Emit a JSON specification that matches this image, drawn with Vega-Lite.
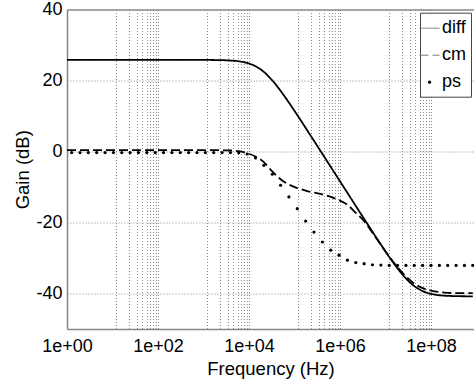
{
  "$schema": "https://vega.github.io/schema/vega-lite/v6.json",
  "width": 407,
  "height": 319.5,
  "autosize": {"type": "none"},
  "padding": {"left": 67, "top": 9.5, "right": 0, "bottom": 56},
  "config": {"view": {"stroke": null}, "font": "Liberation Sans"},
  "data": {"values": [
    {"f": 1, "diff": 25.8, "cm": 0.4, "ps": null},
    {"f": 1.265, "diff": 25.8, "cm": 0.4, "ps": -0.3},
    {"f": 1.932, "diff": 25.8, "cm": 0.4, "ps": -0.3},
    {"f": 2.944, "diff": 25.8, "cm": 0.4, "ps": -0.3},
    {"f": 4.498, "diff": 25.8, "cm": 0.4, "ps": -0.3},
    {"f": 6.871, "diff": 25.8, "cm": 0.4, "ps": -0.3},
    {"f": 10.47, "diff": 25.8, "cm": 0.4, "ps": -0.3},
    {"f": 16.0, "diff": 25.8, "cm": 0.4, "ps": -0.3},
    {"f": 24.43, "diff": 25.8, "cm": 0.4, "ps": -0.3},
    {"f": 37.24, "diff": 25.8, "cm": 0.4, "ps": -0.3},
    {"f": 56.89, "diff": 25.8, "cm": 0.4, "ps": -0.3},
    {"f": 86.9, "diff": 25.8, "cm": 0.4, "ps": -0.3},
    {"f": 132.4, "diff": 25.8, "cm": 0.4, "ps": -0.3},
    {"f": 202.3, "diff": 25.8, "cm": 0.4, "ps": -0.3},
    {"f": 309, "diff": 25.8, "cm": 0.4, "ps": -0.3},
    {"f": 471, "diff": 25.8, "cm": 0.4, "ps": -0.3},
    {"f": 719.4, "diff": 25.8, "cm": 0.4, "ps": -0.3},
    {"f": 1099, "diff": 25.8, "cm": 0.4, "ps": -0.3},
    {"f": 1675, "diff": 25.77, "cm": 0.4, "ps": -0.3},
    {"f": 2559, "diff": 25.73, "cm": 0.35, "ps": -0.3},
    {"f": 3908, "diff": 25.63, "cm": 0.3, "ps": -0.3},
    {"f": 5957, "diff": 25.41, "cm": 0.1, "ps": -0.35},
    {"f": 9099, "diff": 24.94, "cm": -0.5, "ps": -0.7},
    {"f": 13900, "diff": 24.02, "cm": -1.4, "ps": -1.8},
    {"f": 21180, "diff": 22.42, "cm": -3.0, "ps": -3.9},
    {"f": 32360, "diff": 20.06, "cm": -5.6, "ps": -6.4},
    {"f": 49430, "diff": 17.09, "cm": -7.8, "ps": -9.5},
    {"f": 75340, "diff": 13.78, "cm": -9.3, "ps": -12.8},
    {"f": 115100, "diff": 10.26, "cm": -10.3, "ps": -16.1},
    {"f": 175800, "diff": 6.65, "cm": -11.0, "ps": -19.6},
    {"f": 267900, "diff": 3.02, "cm": -11.6, "ps": -22.7},
    {"f": 409300, "diff": -0.65, "cm": -12.1, "ps": -25.5},
    {"f": 625200, "diff": -4.32, "cm": -12.8, "ps": -27.8},
    {"f": 952800, "diff": -7.98, "cm": -13.7, "ps": -29.2},
    {"f": 1455000, "diff": -11.65, "cm": -15.0, "ps": -30.6},
    {"f": 2223000, "diff": -15.33, "cm": -17.3, "ps": -31.3},
    {"f": 3388000, "diff": -18.97, "cm": -19.6, "ps": -31.6},
    {"f": 5176000, "diff": -22.61, "cm": -22.9, "ps": -31.9},
    {"f": 7907000, "diff": -26.21, "cm": -26.3, "ps": -32.0},
    {"f": 12050000, "diff": -29.67, "cm": -29.6, "ps": -32.1},
    {"f": 18410000, "diff": -32.93, "cm": -32.6, "ps": -32.1},
    {"f": 28120000, "diff": -35.75, "cm": -35.2, "ps": -32.1},
    {"f": 42850000, "diff": -37.91, "cm": -37.2, "ps": -32.1},
    {"f": 65460000, "diff": -39.32, "cm": -38.5, "ps": -32.1},
    {"f": 100000000, "diff": -40.1, "cm": -39.2, "ps": -32.1},
    {"f": 152800000, "diff": -40.49, "cm": -39.6, "ps": -32.1},
    {"f": 232800000, "diff": -40.66, "cm": -39.8, "ps": -32.1},
    {"f": 355600000, "diff": -40.74, "cm": -39.9, "ps": -32.1},
    {"f": 543300000, "diff": -40.78, "cm": -39.9, "ps": -32.1},
    {"f": 827900000, "diff": -40.8, "cm": -39.9, "ps": -32.1}
  ]},
  "transform": [{"fold": ["diff", "cm", "ps"], "as": ["series", "gain"]}],
  "encoding": {
    "x": {
      "field": "f", "type": "quantitative",
      "scale": {"type": "log", "domain": [1, 881000000], "nice": false},
      "axis": {
        "title": "Frequency (Hz)",
        "values": [1, 12, 23, 34, 45, 56, 67, 78, 89, 100, 1200, 2300, 3400, 4500, 5600, 6700, 7800, 8900, 10000, 120000, 230000, 340000, 450000, 560000, 670000, 780000, 890000, 1000000, 12000000, 23000000, 34000000, 45000000, 56000000, 67000000, 78000000, 89000000, 100000000],
        "labelExpr": "datum.value === 1 ? '1e+00' : datum.value === 100 ? '1e+02' : datum.value === 10000 ? '1e+04' : datum.value === 1000000 ? '1e+06' : datum.value === 100000000 ? '1e+08' : ''",
        "labelOverlap": false, "labelFlush": false,
        "grid": true, "gridDash": [1, 2], "gridColor": "#8c8c8c", "gridWidth": 1,
        "ticks": false, "domainColor": "#888", "domainWidth": 1.5,
        "labelPadding": 8, "labelFontSize": 18, "labelColor": "black", "labelFont": "Liberation Sans",
        "titleFontSize": 18.5, "titleFontWeight": "normal", "titleColor": "black", "titleFont": "Liberation Sans", "titlePadding": 4
      }
    },
    "y": {
      "field": "gain", "type": "quantitative",
      "scale": {"domain": [-50, 40], "nice": false, "zero": false},
      "axis": {
        "title": "Gain (dB)",
        "values": [-40, -20, 0, 20, 40],
        "labelExpr": "'' + datum.value",
        "grid": true,
        "gridDash": {"condition": {"test": "datum.value === 40", "value": []}, "value": [1, 2]},
        "gridColor": {"condition": {"test": "datum.value === 40", "value": "#888"}, "value": "#8c8c8c"},
        "gridWidth": {"condition": {"test": "datum.value === 40", "value": 1.5}, "value": 1},
        "ticks": false, "domainColor": "#888", "domainWidth": 1.5, "labelFlush": false,
        "labelPadding": 5, "labelFontSize": 18, "labelColor": "black", "labelFont": "Liberation Sans",
        "titleFontSize": 18.5, "titleFontWeight": "normal", "titleColor": "black", "titleFont": "Liberation Sans", "titlePadding": 3
      }
    }
  },
  "layer": [
    {
      "transform": [{"filter": "datum.series !== 'ps'"}],
      "mark": {"type": "line", "color": "black", "strokeWidth": 1.8, "interpolate": "monotone", "clip": true},
      "encoding": {
        "strokeDash": {
          "field": "series", "type": "nominal",
          "scale": {"domain": ["diff", "cm", "ps"], "range": [[1, 0], [9, 4], [1, 0]]},
          "legend": {
            "title": null, "orient": "none", "legendX": 353, "legendY": 3.2,
            "fillColor": "white", "strokeColor": "#444", "padding": 5, "symbolOffset": -6,
            "labelFontSize": 18, "labelFont": "Liberation Sans", "labelColor": "black", "labelOffset": 2,
            "rowPadding": 7, "symbolType": "stroke", "symbolSize": 400, "symbolStrokeColor": "#777", "symbolStrokeWidth": 1,
            "encode": {"symbols": {"update": {
              "shape": {"signal": "datum.value === 'ps' ? 'circle' : 'stroke'"},
              "size": {"signal": "datum.value === 'ps' ? 10 : 400"},
              "fill": {"signal": "datum.value === 'ps' ? 'black' : 'transparent'"},
              "stroke": {"signal": "datum.value === 'ps' ? 'transparent' : '#777'"}
            }}}
          }
        }
      }
    },
    {
      "transform": [{"filter": "datum.series === 'ps' && isValid(datum.gain)"}],
      "mark": {"type": "point", "filled": true, "color": "black", "size": 10, "opacity": 1, "clip": true}
    }
  ]
}
